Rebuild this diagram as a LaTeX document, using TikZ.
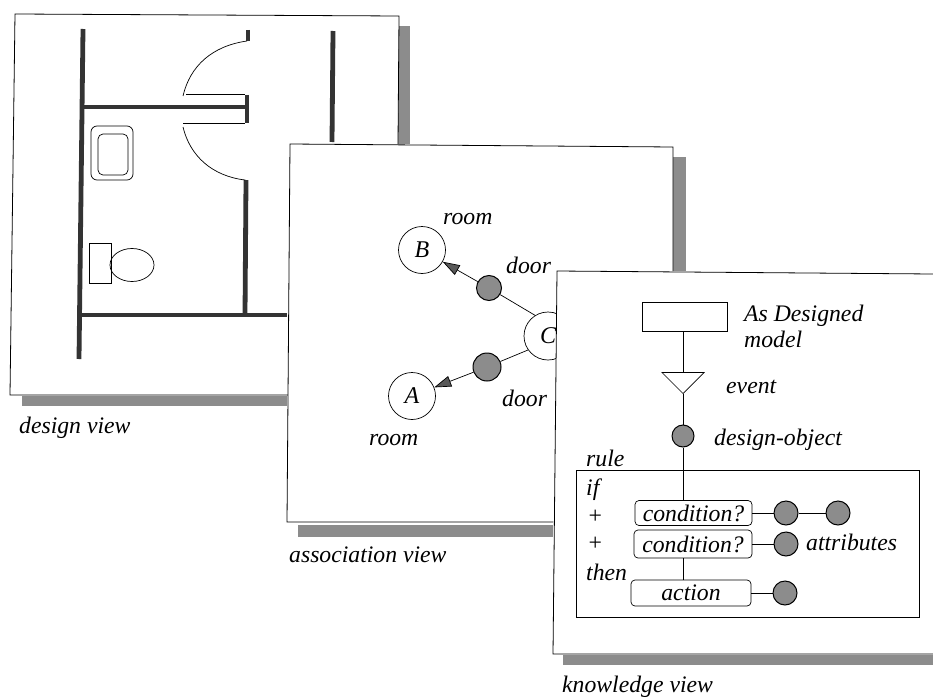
\documentclass[tikz,border=0pt]{standalone}
\usepackage{fontspec}
\setmainfont{Liberation Serif}
\usepackage{tikz}
\usetikzlibrary{arrows.meta,positioning,shapes.geometric}
\definecolor{shade}{gray}{0.55}

\begin{document}
\begin{tikzpicture}[
    x=1pt, y=-1pt,
    panel/.style={draw=black, fill=white, line width=0.8pt},
    shadowbar/.style={fill=shade, draw=none},
    wall/.style={line width=4.8pt, draw=black!80},
    thin line/.style={draw=black, line width=0.7pt},
    lbl/.style={font=\fontsize{23.7}{26}\selectfont\itshape, inner sep=0pt, anchor=base west},
    room/.style={circle, draw=black, fill=white, line width=0.7pt, inner sep=0pt,
      font=\fontsize{24}{26}\selectfont\itshape},
    dot/.style={circle, draw=black, fill=shade, line width=1pt, inner sep=0pt, minimum size=24pt},
    condbox/.style={rectangle, rounded corners=4pt, draw=black, fill=white, line width=0.7pt,
      inner sep=0pt, font=\fontsize{23.7}{26}\selectfont\itshape},
    arr/.style={-{Triangle[length=17pt,width=11pt,fill=black!65]}, line width=0.7pt},
  ]
  \useasboundingbox (0,0) rectangle (933,698);

  % Design view
  \fill[shadowbar] (397,26) rectangle (410,144);
  \fill[shadowbar] (22,396) rectangle (287,406);
  \draw[panel] (288,395) -- (10,395) -- (15,14) -- (399,16) -- (398,144);

  % Walls
  \draw[wall] (83,29) -- (79,359);
  \draw[wall] (83,107) -- (247,107);
  \draw[wall] (80,315) -- (287,315);
  \draw[wall] (246,180) -- (245,315);
  \draw[wall] (248,30) -- (248,41);
  \draw[wall] (247,95) -- (247,123);
  \draw[wall] (333,31) -- (332,142);

  % Doors
  \draw[thin line] (247,41) .. controls (212,46) and (190,66) .. (183,96);
  \draw[thin line] (186,94) -- (245,94);
  \draw[thin line] (183,123) -- (245,123);
  \draw[thin line] (183,127) .. controls (190,156) and (212,176) .. (245,180);

  % Fixtures
  \draw[thin line, rounded corners=6pt] (91,126) rectangle (133,180);
  \draw[thin line, rounded corners=5pt] (98,134) rectangle (128,175);
  \draw[thin line] (89,243) rectangle (111,283);
  \draw[thin line] (132,265) ellipse (22 and 16.5);

  \node[lbl] (designlbl) at (19,433) {design view};

  % Association view
  \fill[shadowbar] (673,157) rectangle (686,271);
  \fill[shadowbar] (298,525) rectangle (553,537);
  \draw[panel] (553,522) -- (287,522) -- (290,144) -- (673,147) -- (673,271);

  \node[room, minimum size=47pt] (roomB) at (422,250) {B};
  \node[room, minimum size=47pt] (roomA) at (412,396) {A};
  \node[room, minimum size=48pt] (roomC) at (548,336) {C};
  \node[dot, minimum size=25pt] (doorB) at (489,288) {};
  \node[dot, minimum size=28pt] (doorA) at (487,367) {};

  \draw[thin line] (roomC.122) -- (doorB);
  \draw[thin line] (roomC.215) -- (doorA);
  \draw[arr] (doorB) -- (roomB);
  \draw[arr] (doorA) -- (roomA);

  \node[lbl] (roomBlbl) at (443,224) {room};
  \node[lbl] (doorBlbl) at (506,273) {door};
  \node[lbl] (doorAlbl) at (502,406) {door};
  \node[lbl] (roomAlbl) at (369,445) {room};
  \node[lbl] (assoclbl) at (289,562) {association view};

  % Knowledge view
  \fill[shadowbar] (563,655) rectangle (933,665);
  \draw[panel] (933,274) -- (557,271) -- (553,654) -- (933,654);

  \node[draw, fill=white, line width=0.7pt, minimum width=85pt, minimum height=29pt,
    inner sep=0pt] (model) at (684.5,316.5) {};
  \node[isosceles triangle, isosceles triangle apex angle=90, shape border rotate=-90,
    draw, fill=white, line width=0.7pt, minimum size=21pt, inner sep=0pt,
    anchor=apex] (event) at (683,394) {};
  \node[dot, minimum size=22pt] (object) at (683,436) {};
  \node[draw, fill=white, line width=0.7pt, minimum width=343pt, minimum height=147pt,
    inner sep=0pt] (rulebox) at (747.5,543.5) {};

  \node[condbox, minimum width=117pt, minimum height=25pt] (condA) at (693.5,513) {condition?};
  \node[condbox, minimum width=118pt, minimum height=28pt] (condB) at (693,544) {condition?};
  \node[condbox, minimum width=120pt, minimum height=26pt] (action) at (691,593) {action\hspace{20pt}};
  \node[dot] (attrA) at (786,513) {};
  \node[dot] (attrB) at (838,513) {};
  \node[dot] (attrC) at (786,544) {};
  \node[dot] (attrD) at (785,593) {};

  \draw[thin line] (model.south -| event.apex) -- (event.apex |- 0,373);
  \draw[thin line] (event.apex) -- (object);
  \draw[thin line] (object) -- (object |- condA.north);
  \draw[thin line] (condA) -- (attrA);
  \draw[thin line] (attrA) -- (attrB);
  \draw[thin line] (condB) -- (attrC);
  \draw[thin line] (condB.south -| object) -- (action.north -| object);
  \draw[thin line] (action) -- (attrD);

  \node[lbl] (modellbl) at (744,321) {As Designed};
  \node[lbl] (modellblb) at (744,347) {model};
  \node[lbl] (eventlbl) at (726,393) {event};
  \node[lbl] (objectlbl) at (714,445) {design-object};
  \node[lbl] (rulelbl) at (586,466) {rule};
  \node[lbl] (iflbl) at (586,495) {if};
  \node[lbl] (plusA) at (587,523) {+};
  \node[lbl] (plusB) at (587,550) {+};
  \node[lbl] (thenlbl) at (586,580) {then};
  \node[lbl] (attrlbl) at (806,550) {attributes};
  \node[lbl] (knowlbl) at (562,692) {knowledge view};
\end{tikzpicture}
\end{document}
